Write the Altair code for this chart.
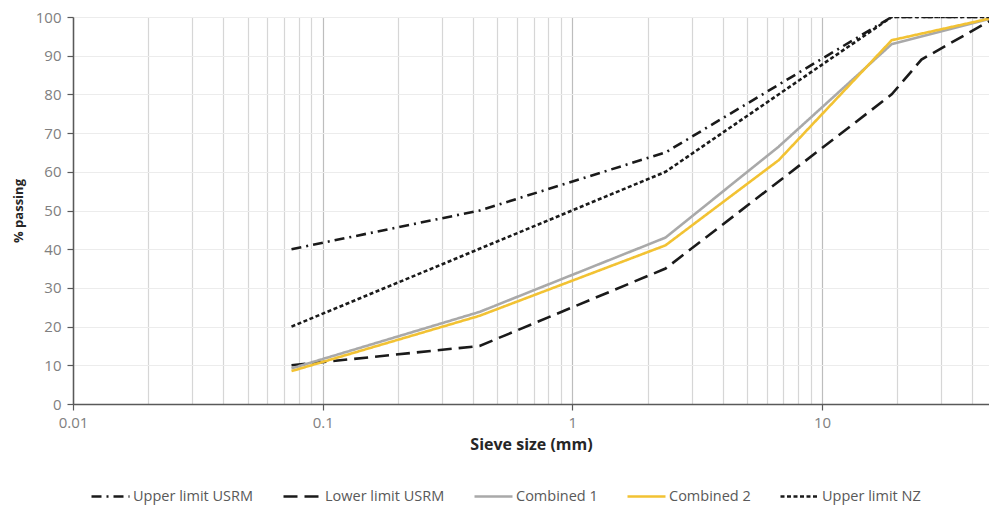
import altair as alt
import pandas as pd

series_names = ["Upper limit USRM", "Lower limit USRM", "Combined 1", "Combined 2", "Upper limit NZ"]
series_colors = ["#1a1a1a", "#1a1a1a", "#a9a9a9", "#f2c233", "#1a1a1a"]
series_dashes = [[10, 5, 2, 5], [14, 7], [1, 0], [1, 0], [4, 2.5]]
series_widths = [2.6, 2.6, 2, 2, 2]

upper_usrm_size = [0.075, 0.425, 2.36, 19, 50]
upper_usrm_pass = [40, 50, 65, 100, 100]
lower_usrm_size = [0.075, 0.425, 2.36, 19, 25, 50]
lower_usrm_pass = [10, 15, 35, 80, 89, 100]
comb1_size = [0.075, 0.425, 2.36, 6.7, 19, 50]
comb1_pass = [9.2, 23.8, 43, 66.5, 93, 100]
comb2_size = [0.075, 0.425, 2.36, 6.7, 19, 50]
comb2_pass = [8.5, 22.8, 41, 63, 94, 100]
upper_nz_size = [0.075, 2.36, 19, 50]
upper_nz_pass = [20, 60, 100, 100]

x_grid_values = [0.01, 0.02, 0.03, 0.04, 0.05, 0.06, 0.07, 0.08, 0.09,
                 0.1, 0.2, 0.3, 0.4, 0.5, 0.6, 0.7, 0.8, 0.9,
                 1, 2, 3, 4, 5, 6, 7, 8, 9,
                 10, 20, 30, 40]
y_tick_values = [0, 10, 20, 30, 40, 50, 60, 70, 80, 90, 100]

rows = []
for name, sizes, vals in [
    (series_names[0], upper_usrm_size, upper_usrm_pass),
    (series_names[1], lower_usrm_size, lower_usrm_pass),
    (series_names[2], comb1_size, comb1_pass),
    (series_names[3], comb2_size, comb2_pass),
    (series_names[4], upper_nz_size, upper_nz_pass),
]:
    for s, v in zip(sizes, vals):
        rows.append({"series": name, "size": s, "passing": v})
df = pd.DataFrame(rows)

major_test = "datum.value == 0.01 || datum.value == 0.1 || datum.value == 1 || datum.value == 10"
label_expr = ("datum.value == 0.01 ? '0.01' : datum.value == 0.1 ? '0.1' : "
              "datum.value == 1 ? '1' : datum.value == 10 ? '10' : ''")

legend_kw = dict(title=None, orient="none", legendX=17, legendY=459,
                 direction="horizontal", columns=5,
                 symbolType="stroke", symbolSize=1444,
                 symbolStrokeWidth=2, labelOffset=2,
                 columnPadding=24, labelFontSize=14.5,
                 labelFont="Open Sans", labelColor="#595959",
                 labelLimit=300)

chart = alt.Chart(df).mark_line(clip=True).encode(
    x=alt.X("size:Q",
            scale=alt.Scale(type="log", domain=[0.01, 46.6], nice=False),
            axis=alt.Axis(values=x_grid_values, labelExpr=label_expr,
                          title="Sieve size (mm)", grid=True,
                          gridColor={"condition": {"test": major_test, "value": "#bdbdbd"}, "value": "#d6d6d6"},
                          gridWidth=1.2,
                          tickOpacity={"condition": {"test": major_test, "value": 1}, "value": 0},
                          tickSize=6, tickColor="#595959", tickWidth=1.2,
                          labelPadding=5, labelFontSize=15, labelColor="#808080",
                          labelFont="Open Sans", labelOverlap=False, labelFlush=False,
                          titleFont="Open Sans", titleFontSize=16, titleFontWeight="bold",
                          titleColor="#262626", titlePadding=6,
                          domainColor="#595959", domainWidth=1.5)),
    y=alt.Y("passing:Q",
            scale=alt.Scale(domain=[0, 100], nice=False),
            axis=alt.Axis(values=y_tick_values, title="% passing", grid=True,
                          gridColor="#ececec", gridWidth=1,
                          tickSize=6, tickColor="#595959", tickWidth=1.2,
                          labelPadding=6, labelFontSize=15, labelColor="#808080",
                          labelFont="Open Sans",
                          titleFont="Open Sans", titleFontSize=13, titleFontWeight="bold",
                          titleColor="#262626", titlePadding=10,
                          domainColor="#595959", domainWidth=1.5)),
    color=alt.Color("series:N",
                    scale=alt.Scale(domain=series_names, range=series_colors),
                    legend=alt.Legend(**legend_kw)),
    strokeDash=alt.StrokeDash("series:N",
                              scale=alt.Scale(domain=series_names, range=series_dashes),
                              legend=alt.Legend(**legend_kw)),
    strokeWidth=alt.StrokeWidth("series:N",
                                scale=alt.Scale(domain=series_names, range=series_widths),
                                legend=None),
    order=alt.Order("size:Q"),
).properties(
    width=916, height=387,
    autosize=alt.AutoSizeParams(type="none"),
    padding={"left": 73, "top": 17, "right": 0, "bottom": 101},
).configure_view(stroke=None).configure(background="white")

chart.save("out.html", embed_options={"renderer": "svg", "actions": False})
